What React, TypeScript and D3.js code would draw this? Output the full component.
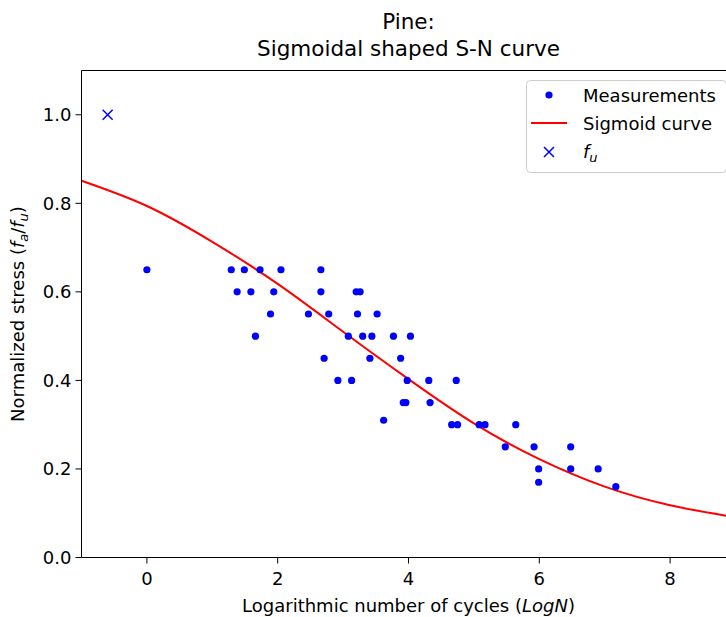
import React from "react";
import * as d3 from "d3";

const measX = [
  0, 1.29, 1.49, 1.73, 2.05, 2.66,
  1.38, 1.59, 1.94, 2.66, 3.2, 3.26,
  1.89, 2.47, 2.78, 3.22, 3.52,
  1.66, 3.08, 3.3, 3.44, 3.77, 4.03,
  2.71, 3.41, 3.88,
  2.92, 3.13, 3.98, 4.31, 4.73,
  3.92, 3.96, 4.33,
  3.62,
  4.66, 4.75, 5.08, 5.17, 5.64,
  5.48, 5.92, 6.48,
  5.99, 6.48, 6.9,
  5.99,
  7.17,
];
const measY = [
  0.65, 0.65, 0.65, 0.65, 0.65, 0.65,
  0.6, 0.6, 0.6, 0.6, 0.6, 0.6,
  0.55, 0.55, 0.55, 0.55, 0.55,
  0.5, 0.5, 0.5, 0.5, 0.5, 0.5,
  0.45, 0.45, 0.45,
  0.4, 0.4, 0.4, 0.4, 0.4,
  0.35, 0.35, 0.35,
  0.31,
  0.3, 0.3, 0.3, 0.3, 0.3,
  0.25, 0.25, 0.25,
  0.2, 0.2, 0.2,
  0.17,
  0.16,
];
const curveX = [-1, 0, 1, 2, 3, 4, 5, 6, 7, 8, 9];
const curveY = [0.851, 0.794, 0.713, 0.618, 0.51, 0.403, 0.303, 0.222, 0.16, 0.118, 0.091];
const fuX = [-0.6];
const fuY = [1.0];
const xTicks = [0, 2, 4, 6, 8];
const yTicks = [0, 0.2, 0.4, 0.6, 0.8, 1.0];

const FONT = "DejaVu Sans, sans-serif";

export default function App() {
  const W = 726, H = 617;
  const left = 81.5, right = 735.5, top = 70.5, bottom = 557.5;
  const x = d3.scaleLinear().domain([-1, 9]).range([left, right]);
  const y = d3.scaleLinear().domain([0, 1.1]).range([bottom, top]);
  const line = d3
    .line<number>()
    .x((_, i) => x(curveX[i]))
    .y((d) => y(d))
    .curve(d3.curveNatural);
  const fs = 18;
  const lgX = 526.5, lgY = 80.5, lgW = 200, lgH = 92;
  return (
    <svg
      width={W}
      height={H}
      style={{ position: "absolute", left: 0, top: 0, background: "#fff" }}
      fontFamily={FONT}
    >
      <defs>
        <clipPath id="plotclip">
          <rect x={left} y={top} width={right - left} height={bottom - top} />
        </clipPath>
      </defs>
      {/* title */}
      <text x={(left + right) / 2} y={29} textAnchor="middle" fontSize={21.5} fill="#000">
        Pine:
      </text>
      <text x={(left + right) / 2} y={56} textAnchor="middle" fontSize={21.5} fill="#000">
        Sigmoidal shaped S-N curve
      </text>
      {/* curve */}
      <g clipPath="url(#plotclip)">
        <path d={line(curveY) || ""} fill="none" stroke="#ff0000" strokeWidth={2} />
      </g>
      {/* measurements */}
      {measX.map((v, i) => (
        <circle key={i} cx={x(v)} cy={y(measY[i])} r={3.6} fill="#0000ff" />
      ))}
      {/* fu */}
      {fuX.map((v, i) => {
        const cx = x(v), cy = y(fuY[i]), s = 5;
        return (
          <path
            key={i}
            d={`M${cx - s},${cy - s}L${cx + s},${cy + s}M${cx - s},${cy + s}L${cx + s},${cy - s}`}
            stroke="#0000ff"
            strokeWidth={1.5}
          />
        );
      })}
      {/* spines */}
      <line x1={left} x2={left} y1={top} y2={bottom} stroke="#000" strokeWidth={1} />
      <line x1={left} x2={right} y1={bottom} y2={bottom} stroke="#000" strokeWidth={1} />
      <line x1={left} x2={right} y1={top} y2={top} stroke="#000" strokeWidth={1} />
      <line x1={right} x2={right} y1={top} y2={bottom} stroke="#000" strokeWidth={1} />
      {/* x ticks */}
      {xTicks.map((t) => (
        <g key={t}>
          <line x1={x(t)} x2={x(t)} y1={bottom} y2={bottom + 6} stroke="#000" strokeWidth={1} />
          <text x={x(t)} y={bottom + 27} textAnchor="middle" fontSize={fs} fill="#000">
            {t}
          </text>
        </g>
      ))}
      {/* y ticks */}
      {yTicks.map((t) => (
        <g key={t}>
          <line x1={left - 6} x2={left} y1={y(t)} y2={y(t)} stroke="#000" strokeWidth={1} />
          <text x={left - 10} y={y(t) + 6.5} textAnchor="end" fontSize={fs} fill="#000">
            {t.toFixed(1)}
          </text>
        </g>
      ))}
      {/* axis labels */}
      <text x={(left + right) / 2} y={612} textAnchor="middle" fontSize={fs} fill="#000">
        Logarithmic number of cycles (<tspan fontStyle="italic">LogN</tspan>)
      </text>
      <text
        transform={`translate(24,${(top + bottom) / 2}) rotate(-90)`}
        textAnchor="middle"
        fontSize={fs}
        fill="#000"
      >
        Normalized stress (<tspan fontStyle="italic">f</tspan>
        <tspan fontStyle="italic" fontSize={13} dy={4}>a</tspan>
        <tspan dy={-4}>/</tspan>
        <tspan fontStyle="italic">f</tspan>
        <tspan fontStyle="italic" fontSize={13} dy={4}>u</tspan>
        <tspan dy={-4}>)</tspan>
      </text>
      {/* legend */}
      <rect x={lgX} y={lgY} width={lgW} height={lgH} rx={4} fill="#fff" fillOpacity={0.8} stroke="#cccccc" strokeWidth={1} />
      <circle cx={549} cy={95} r={3.6} fill="#0000ff" />
      <text x={583} y={101.5} fontSize={fs} fill="#000">Measurements</text>
      <line x1={531} x2={567} y1={123} y2={123} stroke="#ff0000" strokeWidth={2} />
      <text x={583} y={129.5} fontSize={fs} fill="#000">Sigmoid curve</text>
      <path d={`M544,147L554,157M544,157L554,147`} stroke="#0000ff" strokeWidth={1.5} />
      <text x={583} y={158} fontSize={fs} fill="#000">
        <tspan fontStyle="italic">f</tspan>
        <tspan fontStyle="italic" fontSize={13} dy={4}>u</tspan>
      </text>
    </svg>
  );
}
